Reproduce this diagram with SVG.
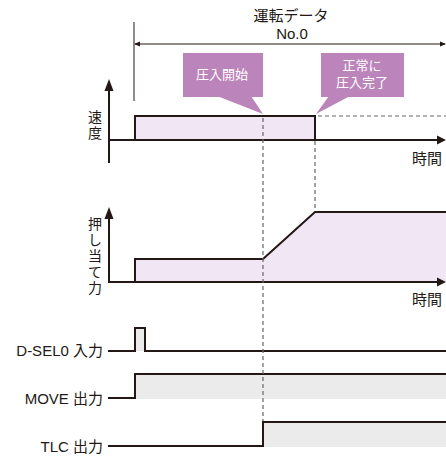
<svg xmlns="http://www.w3.org/2000/svg" width="446" height="456" viewBox="0 0 446 456">
<style>
text{font-family:"Liberation Sans","Noto Sans CJK JP",sans-serif;fill:#231815}
.t{font-size:15px}
.v{font-size:14px;text-anchor:middle}
.w{font-size:13px;fill:#ffffff;text-anchor:middle}
.ln{stroke:#231815;stroke-width:2;fill:none}
.thin{stroke:#231815;stroke-width:1;fill:none}
.dash{stroke:#666;stroke-width:1.2;stroke-dasharray:4 3;fill:none}
.call{fill:#bb84bb}
.pk{fill:#f1e6f3}
.gr{fill:#ebebeb}
</style>
<defs>
<marker id="sa" markerWidth="6" markerHeight="6" refX="5" refY="3" orient="auto-start-reverse" markerUnits="userSpaceOnUse"><path d="M0,0.5 L6,3 L0,5.5 Z" fill="#231815"/></marker>
</defs>

<g id="header">
<text class="t" x="291" y="21" text-anchor="middle">運転データ</text>
<text class="t" x="292" y="39" text-anchor="middle">No.0</text>
<line class="thin" x1="134" y1="22" x2="134" y2="101"/>
<line class="thin" x1="135" y1="44" x2="445" y2="44" marker-start="url(#sa)" marker-end="url(#sa)"/>
</g>

<g id="callout-start">
<rect class="call" x="183" y="53" width="80" height="44"/>
<polygon class="call" points="217,96 251,96 263,114"/>
<text class="w" x="222" y="79">圧入開始</text>
</g>

<g id="callout-end">
<rect class="call" x="321" y="53" width="83" height="44"/>
<polygon class="call" points="329,96 350,96 316,114"/>
<text class="w" x="362" y="70">正常に</text>
<text class="w" x="362" y="87">圧入完了</text>
</g>

<g id="speed-chart">
<rect class="pk" x="135" y="116" width="180" height="24"/>
<polyline class="ln" points="135,140 135,116 315,116 315,140"/>
<line class="dash" x1="318" y1="116" x2="446" y2="116"/>
<line class="ln" x1="109" y1="163" x2="109" y2="86"/>
<path d="M104.5,91 L109,79 L113.5,91 Z" fill="#231815"/>
<line class="ln" x1="109" y1="140" x2="440" y2="140"/>
<path d="M437,135.5 L446,140 L437,144.5 Z" fill="#231815"/>
<text class="v" x="95" y="122">速</text>
<text class="v" x="95" y="138">度</text>
<text class="t" x="442" y="164" text-anchor="end">時間</text>
</g>

<g id="force-chart">
<polygon class="pk" points="135,282 135,259 263,259 315,212 446,212 446,282"/>
<polyline class="ln" points="135,282 135,259 263,259 315,212 446,212"/>
<line class="ln" x1="109" y1="283" x2="109" y2="214"/>
<path d="M104.5,219 L109,207 L113.5,219 Z" fill="#231815"/>
<line class="ln" x1="109" y1="282" x2="440" y2="282"/>
<path d="M437,277.5 L446,282 L437,286.5 Z" fill="#231815"/>
<text class="v" x="95" y="229">押</text>
<text class="v" x="95" y="245">し</text>
<text class="v" x="95" y="261">当</text>
<text class="v" x="95" y="277">て</text>
<text class="v" x="95" y="293">力</text>
<text class="t" x="442" y="305" text-anchor="end">時間</text>
</g>

<g id="dselo">
<rect class="gr" x="135" y="328" width="10" height="23"/>
<polyline class="ln" points="108,351 135,351 135,328 145,328 145,351 446,351"/>
<text class="t" x="103" y="356" text-anchor="end">D-SEL0 入力</text>
</g>

<g id="move">
<rect class="gr" x="135" y="374" width="311" height="25"/>
<polyline class="ln" points="108,398 135,398 135,374 446,374"/>
<text class="t" x="103" y="404" text-anchor="end">MOVE 出力</text>
</g>

<g id="tlc">
<rect class="gr" x="263" y="422" width="183" height="25"/>
<polyline class="ln" points="108,446 263,446 263,422 446,422"/>
<text class="t" x="103" y="452" text-anchor="end">TLC 出力</text>
</g>

<g id="connectors">
<line class="dash" x1="263" y1="118" x2="263" y2="421"/>
<line class="dash" x1="315" y1="141" x2="315" y2="211"/>
</g>
</svg>
